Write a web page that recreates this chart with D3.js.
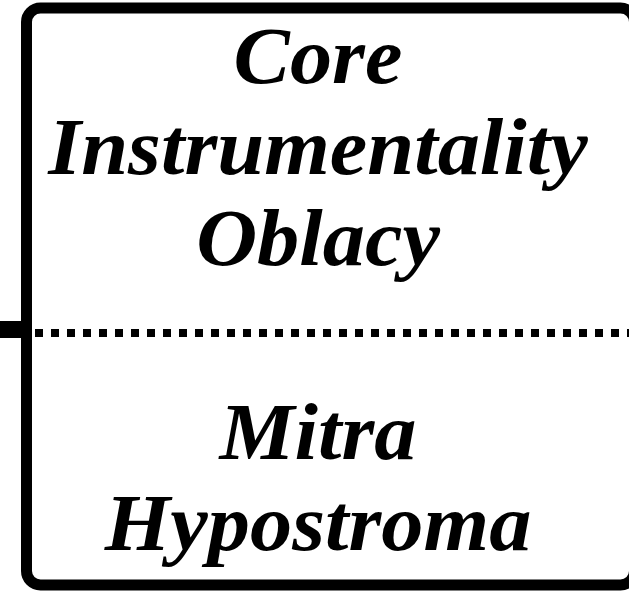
<!DOCTYPE html>
<html>
<head>
<meta charset="utf-8">
<script src="https://cdn.jsdelivr.net/npm/d3@7"></script>
<style>
  html, body { margin: 0; padding: 0; background: #fff; }
  svg { display: block; }
</style>
</head>
<body>
<div id="chart"></div>
<script>
// text of the two compartments of the box
var topLines = ['Core', 'Instrumentality', 'Oblacy'];
var bottomLines = ['Mitra', 'Hypostroma'];

var width = 629, height = 591;

var svg = d3.select('#chart').append('svg')
    .attr('width', width)
    .attr('height', height);

// baseline of each text row
var yTop = d3.scaleLinear().domain([0, 2]).range([83, 265]);
var yBottom = d3.scaleLinear().domain([0, 1]).range([459, 550]);
var xCenter = 318;
var divY = 333;

// left connector stub
svg.append('line')
    .attr('x1', 0).attr('x2', 24)
    .attr('y1', 329.5).attr('y2', 329.5)
    .attr('stroke', '#000')
    .attr('stroke-width', 17);

// outer box (right side runs just past the crop)
svg.append('rect')
    .attr('x', 26.5).attr('y', 8)
    .attr('width', 608).attr('height', 577)
    .attr('rx', 14).attr('ry', 14)
    .attr('fill', 'none')
    .attr('stroke', '#000')
    .attr('stroke-width', 11);

// dotted divider
svg.append('line')
    .attr('x1', 35).attr('x2', width)
    .attr('y1', divY).attr('y2', divY)
    .attr('stroke', '#000')
    .attr('stroke-width', 8)
    .attr('stroke-dasharray', '8,8');

function addLines(lines, yScale) {
  svg.append('g')
    .selectAll('text')
    .data(lines)
    .enter().append('text')
      .attr('transform', function(d, i) {
        return 'translate(' + xCenter + ',' + yScale(i) + ') scale(1.055,1)';
      })
      .attr('text-anchor', 'middle')
      .style('font', "italic bold 80px 'Liberation Serif', 'Times New Roman', serif")
      .attr('fill', '#000')
      .text(function(d) { return d; });
}

addLines(topLines, yTop);
addLines(bottomLines, yBottom);
</script>
</body>
</html>
